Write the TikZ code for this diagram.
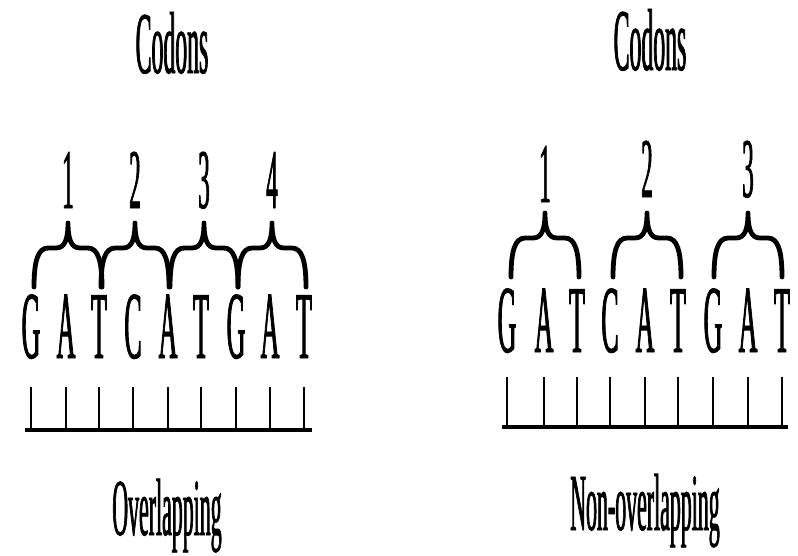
\documentclass[tikz,border=0pt]{standalone}
\usepackage{fontspec}
\setmainfont{Liberation Serif}
\newfontfamily\condfont[FakeStretch=0.27,FakeBold=0.8]{Liberation Serif}
\begin{document}
\begin{tikzpicture}[x=1pt,y=1pt,
  title/.style={font=\condfont\fontsize{88}{88}\selectfont, anchor=base, inner sep=0pt},
  caption/.style={font=\condfont\fontsize{81}{81}\selectfont, anchor=base, inner sep=0pt},
  basel/.style={font=\condfont\fontsize{96}{96}\selectfont, anchor=base, inner sep=0pt},
  num/.style={font=\condfont\fontsize{85}{85}\selectfont, anchor=base, inner sep=0pt},
  tickline/.style={line width=2pt},
  strand/.style={line width=4.5pt},
  bracestyle/.style={line width=4.8pt, line cap=round, line join=round},
  pics/cbrace/.style={code={
    \draw[bracestyle] (-#1,-64) .. controls (-#1,-38) and (-#1+4,-25) .. (-#1+14,-25)
      -- (-12,-25) .. controls (-4,-25) and (0,-18) .. (0,0)
      .. controls (0,-18) and (4,-25) .. (12,-25)
      -- (#1-14,-25) .. controls (#1-4,-25) and (#1,-38) .. (#1,-64);
  }}
]
\useasboundingbox (0,0) rectangle (798,-555);

% ---------- Overlapping ----------
\node[title] (tl) at (172,-73) {Codons};
\foreach \x/\l [count=\i] in {31/G,66/A,99/T,133/C,168/A,201/T,236/G,270/A,304/T}
  \node[basel] (L\i) at (\x,-358) {\l};
\coordinate (ltop) at (0,-387);
\coordinate (lbot) at (0,-430);
\foreach \i in {1,...,9}
  \draw[tickline] (L\i.base |- ltop) -- (L\i.base |- lbot);
\coordinate (lstart) at (25,-430);
\coordinate (lend) at (312,-430);
\draw[strand] (lstart) -- (lend);
\foreach \x/\n in {68/1,135/2,204/3,272/4}{
  \node[num] (ln\n) at (\x,-208) {\n};
  \pic at (\x,-223) {cbrace=34};
}
\node[caption] (lc) at (167,-535) {Overlapping};

% ---------- Non-overlapping ----------
\node[title] (tr) at (650,-70) {Codons};
\foreach \x/\l [count=\i] in {507/G,544/A,577/T,610/C,645/A,678/T,713/G,748/A,782/T}
  \node[basel] (R\i) at (\x,-352) {\l};
\coordinate (rtop) at (0,-377);
\coordinate (rbot) at (0,-427);
\foreach \i in {1,...,9}
  \draw[tickline] (R\i.base |- rtop) -- (R\i.base |- rbot);
\coordinate (rstart) at (502,-427);
\coordinate (rend) at (788,-427);
\draw[strand] (rstart) -- (rend);
\foreach \x/\n/\y in {545/1/202,647/2/197,748/3/197}{
  \node[num] (rn\n) at (\x,-\y) {\n};
  \pic at (\x,-213) {cbrace=34};
}
\node[caption] (rc) at (645,-530) {Non-overlapping};
\end{tikzpicture}
\end{document}
